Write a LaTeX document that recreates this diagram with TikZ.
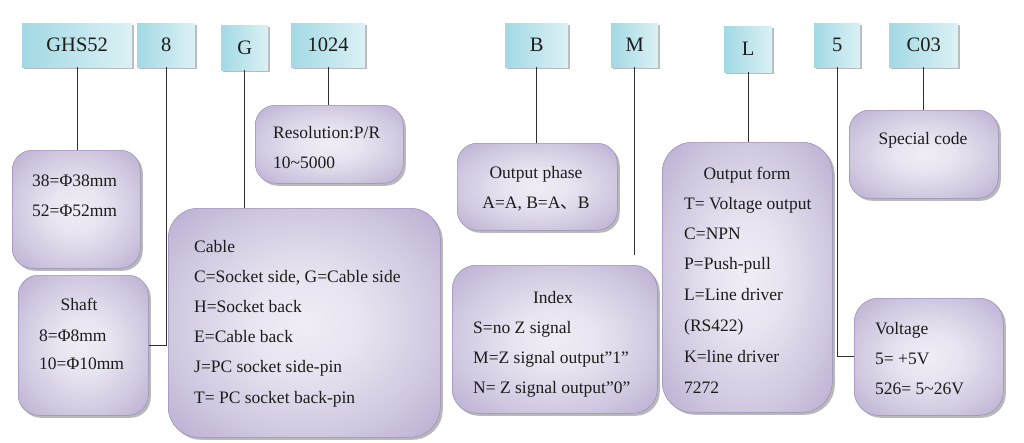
\documentclass[tikz,border=0pt]{standalone}
\usepackage{fontspec}
\setmainfont{Liberation Serif}
\newfontfamily\cjk{Noto Sans CJK SC}
\usetikzlibrary{shadows}
\definecolor{cyanA}{HTML}{A2D9E4}
\definecolor{cyanB}{HTML}{DCF1F5}
\definecolor{purA}{HTML}{A797C5}
\definecolor{purB}{HTML}{F0EDF5}
\definecolor{purD}{HTML}{9A8CB6}
\definecolor{ink}{HTML}{1C1C1C}
\definecolor{wire}{HTML}{2E2E2E}
\pgfdeclareradialshading{purshade}{\pgfpoint{0bp}{0bp}}{%
  color(0bp)=(purB); color(10bp)=(purB!90!purA); color(24bp)=(purB!58!purA);
  color(37bp)=(purB!22!purA); color(47bp)=(purA); color(72bp)=(purA)}
\begin{document}
\begin{tikzpicture}[x=1pt,y=-1pt,
  cbox/.style={draw=none, left color=cyanA, right color=cyanB, inner sep=0pt,
    anchor=north west, minimum height=44pt, text=ink,
    font=\fontsize{20.5}{24}\selectfont,
    drop shadow={shadow xshift=2pt, shadow yshift=-2pt, fill=black!45, opacity=0.6}},
  pbox/.style={draw=purD, line width=0.5pt, shading=purshade,
    inner sep=0pt, anchor=north west, rounded corners=20pt,
    drop shadow={shadow xshift=2.5pt, shadow yshift=-2.5pt, fill=black!50, opacity=0.55}},
  txt/.style={font=\fontsize{17.5}{21}\selectfont, text=ink, inner sep=0pt},
  lt/.style={txt, anchor=base west},
  ct/.style={txt, anchor=base},
  wireline/.style={draw=wire, line width=1.3pt}
]
\fill[white] (0,0) rectangle (1024,442);
\useasboundingbox (0,0) rectangle (1024,442);

% top code boxes
\node[cbox, minimum width=110pt] (tGHS) at (22,23) {GHS52};
\node[cbox, minimum width=58pt] (t8) at (137,23) {8};
\node[cbox, minimum width=47pt, minimum height=45pt] (tG) at (221,25) {G};
\node[cbox, minimum width=74pt] (t1024) at (291,23) {1024};
\node[cbox, minimum width=63pt] (tB) at (505,23) {B};
\node[cbox, minimum width=47pt] (tM) at (611,23) {M};
\node[cbox, minimum width=48pt, minimum height=46pt] (tL) at (724,26) {L};
\node[cbox, minimum width=46pt] (t5) at (814,23) {5};
\node[cbox, minimum width=69pt] (tC) at (889,23) {C03};

% description boxes
\node[pbox, minimum width=128pt, minimum height=118pt] (b38) at (12,150) {};
\node[pbox, minimum width=130pt, minimum height=140pt] (shaft) at (18,275) {};
\node[pbox, rounded corners=30pt, minimum width=272pt, minimum height=229pt] (cable) at (168,208) {};
\node[pbox, minimum width=148pt, minimum height=78pt] (res) at (255,105) {};
\node[pbox, minimum width=160pt, minimum height=87pt] (phase) at (457,143) {};
\node[pbox, rounded corners=30pt, minimum width=170pt, minimum height=270pt] (form) at (662,142) {};
\node[pbox, minimum width=149pt, minimum height=88pt] (special) at (849,110) {};
\node[pbox, rounded corners=24pt, minimum width=205pt, minimum height=148pt] (index) at (452,265) {};
\node[pbox, rounded corners=24pt, minimum width=149pt, minimum height=117pt] (volt) at (854,298) {};

% connectors
\draw[wireline] (tGHS.south) -- (tGHS.south |- b38.north);
\draw[wireline] (t8.south) |- (shaft.east);
\draw[wireline] (tG.south) -- (tG.south |- cable.north);
\draw[wireline] (t1024.south) -- (t1024.south |- res.north);
\draw[wireline] (tB.south) -- (tB.south |- phase.north);
\draw[wireline] (tM.south) -- ([yshift=10pt]tM.south |- index.north);
\draw[wireline] (tL.south) -- (tL.south |- form.north);
\draw[wireline] (t5.south) |- (volt.west);
\draw[wireline] (tC.south) -- (tC.south |- special.north);

% texts
\node[lt] (r1) at (273,138) {Resolution:P/R};
\node[lt] (r2) at (273,168) {10\textasciitilde5000};

\node[lt] (a1) at (32,186) {38=Φ38mm};
\node[lt] (a2) at (32,216) {52=Φ52mm};

\node[ct] (s0) at (79,310) {Shaft};
\node[lt] (s1) at (39,341) {8=Φ8mm};
\node[lt] (s2) at (39,369) {10=Φ10mm};

\node[lt] (c0) at (194,252) {Cable};
\node[lt] (c1) at (194,282) {C=Socket side, G=Cable side};
\node[lt] (c2) at (194,312) {H=Socket back};
\node[lt] (c3) at (194,342) {E=Cable back};
\node[lt] (c4) at (194,372) {J=PC socket side-pin};
\node[lt] (c5) at (194,403) {T= PC socket back-pin};

\node[ct] (p0) at (536,178) {Output phase};
\node[ct] (p1) at (536,208) {A=A, B=A{\cjk 、}B};

\node[ct] (f0) at (747,179) {Output form};
\node[lt] (f1) at (684,209) {T= Voltage output};
\node[lt] (f2) at (684,239) {C=NPN};
\node[lt] (f3) at (684,269) {P=Push-pull};
\node[lt] (f4) at (684,300) {L=Line driver};
\node[lt] (f5) at (684,331) {(RS422)};
\node[lt] (f6) at (684,362) {K=line driver};
\node[lt] (f7) at (684,393) {7272};

\node[ct] (sp) at (923,144) {Special code};

\node[ct] (i0) at (553,303) {Index};
\node[lt] (i1) at (473,333) {S=no Z signal};
\node[lt] (i2) at (473,363) {M=Z signal output”1”};
\node[lt] (i3) at (473,393) {N= Z signal output”0”};

\node[lt] (v0) at (875,334) {Voltage};
\node[lt] (v1) at (875,364) {5= +5V};
\node[lt] (v2) at (875,394) {526= 5\textasciitilde26V};
\end{tikzpicture}
\end{document}
